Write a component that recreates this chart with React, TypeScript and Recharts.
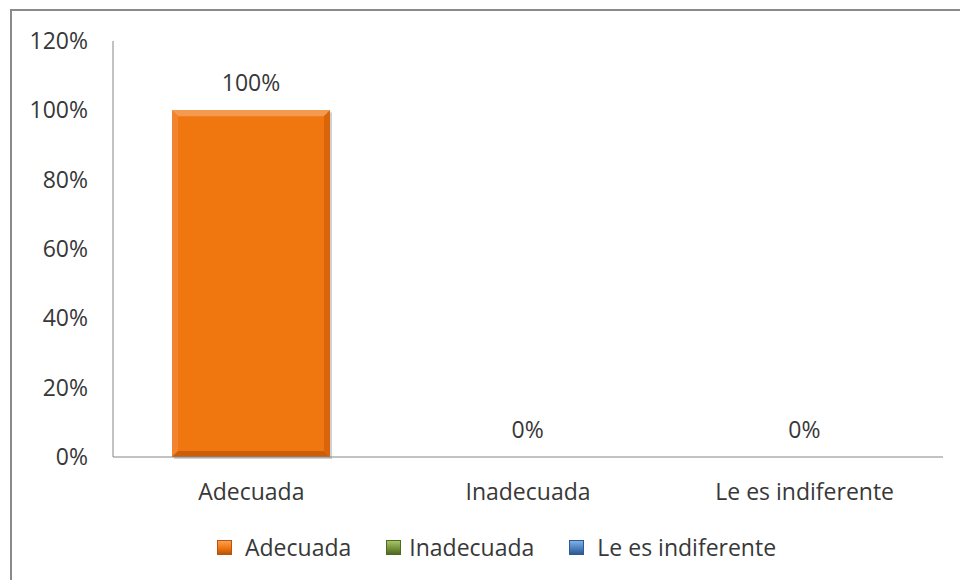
import React from "react";
import { BarChart, Bar, XAxis, YAxis, Legend, Cell, LabelList } from "recharts";

const categories = ["Adecuada", "Inadecuada", "Le es indiferente"];
const values = [1, 0, 0];
const colors = ["#F0760F", "#77933C", "#4F81BD"];
const legendLight = ["#F8A056", "#A5C468", "#7FB0EA"];
const legendDark = ["#B9550A", "#4F6A22", "#2D5A95"];
const yTicks = [0, 0.2, 0.4, 0.6, 0.8, 1.0, 1.2];

const data = categories.map((c, i) => ({ name: c, value: values[i] }));

const FONT = "'Open Sans', 'Liberation Sans', sans-serif";
const TEXT = "#383838";
const AXIS_FS = 23;
const LEGEND_FS = 23;
const pct = (v: number) => `${Math.round(v * 100)}%`;

const BevelBar = (props: any) => {
  const { x, y, width, height, fill } = props;
  if (!height || height <= 0) return null;
  const b = 6;
  return (
    <g>
      <rect x={x + 2} y={y + 2} width={width} height={height} fill="rgba(0,0,0,0.18)" />
      <rect x={x} y={y} width={width} height={height} fill={fill} />
      <polygon
        points={`${x},${y} ${x + width},${y} ${x + width - b},${y + b} ${x + b},${y + b}`}
        fill="#F49A50"
      />
      <polygon
        points={`${x},${y} ${x + b},${y + b} ${x + b},${y + height - b} ${x},${y + height}`}
        fill="#F28430"
      />
      <polygon
        points={`${x + width},${y} ${x + width},${y + height} ${x + width - b},${y + height - b} ${x + width - b},${y + b}`}
        fill="#D8650C"
      />
      <polygon
        points={`${x},${y + height} ${x + width},${y + height} ${x + width - b},${y + height - b} ${x + b},${y + height - b}`}
        fill="#CC5E0A"
      />
    </g>
  );
};

const LegendContent = () => (
  <div
    style={{
      display: "flex",
      alignItems: "center",
      height: 40,
      paddingLeft: 217,
      fontFamily: FONT,
      fontSize: LEGEND_FS,
      color: TEXT,
      boxSizing: "border-box",
      whiteSpace: "nowrap",
    }}
  >
    {categories.map((c, i) => (
      <div key={c} style={{ display: "flex", alignItems: "center", marginRight: 35 }}>
        <span
          style={{
            display: "inline-block",
            width: 13,
            height: 13,
            background: `linear-gradient(180deg, ${legendLight[i]} 0%, ${colors[i]} 55%, ${legendDark[i]} 100%)`,
            border: `1px solid ${legendDark[i]}`,
            marginRight: i === 1 ? 8 : 13,
          }}
        />
        <span>{c}</span>
      </div>
    ))}
  </div>
);

export default function App() {
  return (
    <div
      style={{
        position: "absolute",
        left: 0,
        top: 0,
        width: 960,
        height: 580,
        overflow: "hidden",
        background: "#fff",
      }}
    >
      <div
        style={{
          position: "absolute",
          left: 10,
          top: 9,
          width: 1000,
          height: 1000,
          border: "2px solid #8a8a8a",
        }}
      />
      <div style={{ position: "absolute", left: 0, top: 0 }}>
        <BarChart
          width={960}
          height={580}
          data={data}
          margin={{ top: 41, right: 17, left: 0, bottom: 13 }}
          barSize={158}
        >
          <YAxis
            width={113}
            domain={[0, 1.2]}
            ticks={yTicks}
            tickFormatter={pct}
            axisLine={{ stroke: "#868686" }}
            tickLine={false}
            tickSize={0}
            tickMargin={25}
            tick={{ fill: TEXT, fontSize: AXIS_FS, fontFamily: FONT }}
          />
          <XAxis
            dataKey="name"
            height={70}
            axisLine={{ stroke: "#868686" }}
            tickLine={false}
            tickSize={0}
            tickMargin={27}
            tick={{ fill: TEXT, fontSize: AXIS_FS, fontFamily: FONT }}
          />
          <Legend
            verticalAlign="bottom"
            height={40}
            wrapperStyle={{ left: 0, width: 960 }}
            content={<LegendContent />}
          />
          <Bar dataKey="value" isAnimationActive={false} shape={<BevelBar />}>
            {data.map((d, i) => (
              <Cell key={d.name} fill={colors[i]} />
            ))}
            <LabelList
              dataKey="value"
              position="top"
              offset={19}
              formatter={(v: any) => pct(Number(v))}
              style={{ fill: TEXT, fontSize: AXIS_FS, fontFamily: FONT }}
            />
          </Bar>
        </BarChart>
      </div>
    </div>
  );
}
